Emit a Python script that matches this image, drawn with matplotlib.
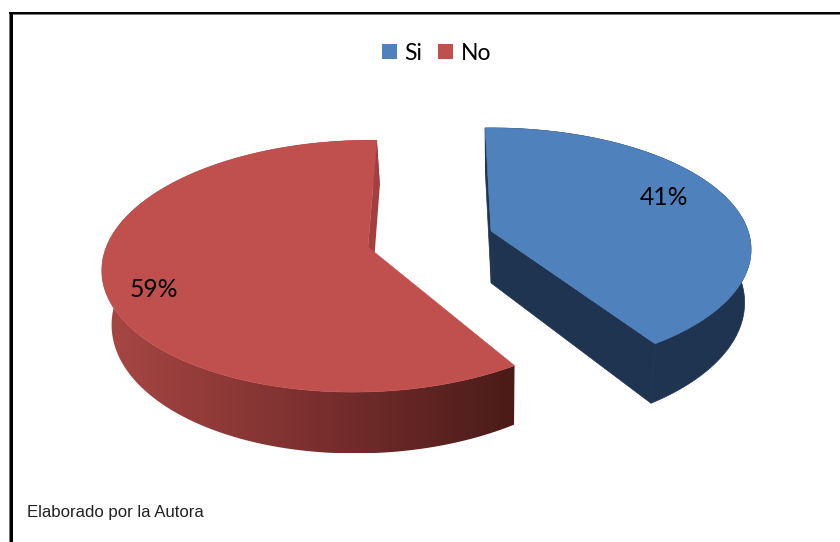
import numpy as np
import matplotlib
matplotlib.use("Agg")
import matplotlib.pyplot as plt
from matplotlib.patches import Polygon, Rectangle, Patch
from matplotlib.colors import LinearSegmentedColormap

categories = ["Si", "No"]
values = [41, 59]
colors = ["#4F81BD", "#C0504D"]
footer = "Elaborado por la Autora"

W, H = 840, 542
fig = plt.figure(figsize=(W / 100, H / 100), dpi=100, facecolor="white")
ax = fig.add_axes([0, 0, 1, 1])
ax.set_xlim(0, W)
ax.set_ylim(H, 0)
ax.axis("off")

# projection of the tilted disc
K = 0.152
DEPTH = 52
VP_X = 495
SHRINK = 0.975
geom = {
    "Si": dict(apex=(491, 231), rx=257, ry=118.7, shear=0, rot=-1.5, m=0.0),
    "No": dict(apex=(368, 247), rx=257, ry=123.0, shear=8, rot=0.5, m=0.018),
}


def project(g, t_deg, r=1.0):
    t = np.radians(np.asarray(t_deg, dtype=float) + g["rot"])
    u, v = r * np.sin(t), r * np.cos(t)
    s = 1 / (1 + K * v + g["m"] * u)
    x = g["apex"][0] + (g["rx"] * u + g["shear"] * v) * s
    y = g["apex"][1] - g["ry"] * v * s
    return x, y, s


def lower(x, y, s):
    return VP_X + (x - VP_X) * SHRINK, y + DEPTH * s


def poly(xs, ys, **kw):
    p = Polygon(np.column_stack([xs, ys]), closed=True, **kw)
    ax.add_patch(p)
    return p


angles = np.cumsum([0] + values) * 3.6
for i, name in enumerate(categories):
    g = geom[name]
    t = np.linspace(angles[i], angles[i + 1], 240)
    xt, yt, st = project(g, t)
    xb, yb = lower(xt, yt, st)
    ax0, ay0, as0 = project(g, 0, r=0.0)
    ax1, ay1 = lower(ax0, ay0, as0)
    rim_x = np.r_[xt, xb[::-1]]
    rim_y = np.r_[yt, yb[::-1]]
    if name == "Si":
        dark = "#1F3450"
        poly(rim_x, rim_y, fc=dark, ec=dark, lw=0.5, zorder=2)
        poly([ax0, xt[-1], xb[-1], ax1], [ay0, yt[-1], yb[-1], ay1], fc=dark, ec=dark, lw=0.5, zorder=2)
        poly([ax0, xt[0], xb[0], ax1], [ay0, yt[0], yb[0], ay1], fc=dark, ec=dark, lw=0.5, zorder=2)
    else:
        clip = poly(rim_x, rim_y, fc="none", ec="none", zorder=2)
        cmap = LinearSegmentedColormap.from_list(
            "rim", ["#A84744", "#7C302F", "#4A1B18"]
        )
        im = ax.imshow(
            np.linspace(0, 1, 256)[None, :],
            extent=(rim_x.min(), rim_x.max(), rim_y.max(), rim_y.min()),
            cmap=cmap,
            aspect="auto",
            zorder=2,
        )
        im.set_clip_path(clip)
        # the wall at the back of the slice, seen as a thin sliver
        poly([ax0, xt[-1], xb[-1], ax1], [ay0, yt[-1], yb[-1], ay1], fc="#A33F3E", ec="none", zorder=2.5)
    poly(np.r_[ax0, xt], np.r_[ay0, yt], fc=colors[i], ec=colors[i], lw=0.4, zorder=3)

ax.set_xlim(0, W)
ax.set_ylim(H, 0)

# value labels
label_pos = {"Si": (664, 197.5), "No": (154, 289.5)}
for name, v in zip(categories, values):
    ax.text(*label_pos[name], f"{v}%", family="Lato", fontsize=17.8, color="black",
            ha="center", va="center", zorder=5)

# legend
handles = [Patch(fc=c, ec="none", label=n) for n, c in zip(categories, colors)]
ax.legend(handles=handles, ncol=2, loc="center", bbox_to_anchor=(436.5, 53),
          bbox_transform=ax.transData, frameon=False, borderpad=0,
          prop={"family": "Lato", "size": 16.5}, handlelength=0.65, handleheight=0.65,
          handletextpad=0.32, columnspacing=0.7, labelspacing=0)

# footer
ax.text(27, 512.5, footer, family="Liberation Sans", fontsize=12.1, color="#222222",
        ha="left", va="center", zorder=5)

# frame
ax.add_patch(Rectangle((9, 12), 1, H - 12, fc="#777777", ec="none", zorder=6))
ax.add_patch(Rectangle((10, 12), 3, H - 12, fc="black", ec="none", zorder=7))
ax.add_patch(Rectangle((13, 14), W - 13, 1, fc="#777777", ec="none", zorder=6))
ax.add_patch(Rectangle((9, 12), W - 9, 2, fc="black", ec="none", zorder=7))

fig.savefig("out.png", dpi=100, facecolor="white")
